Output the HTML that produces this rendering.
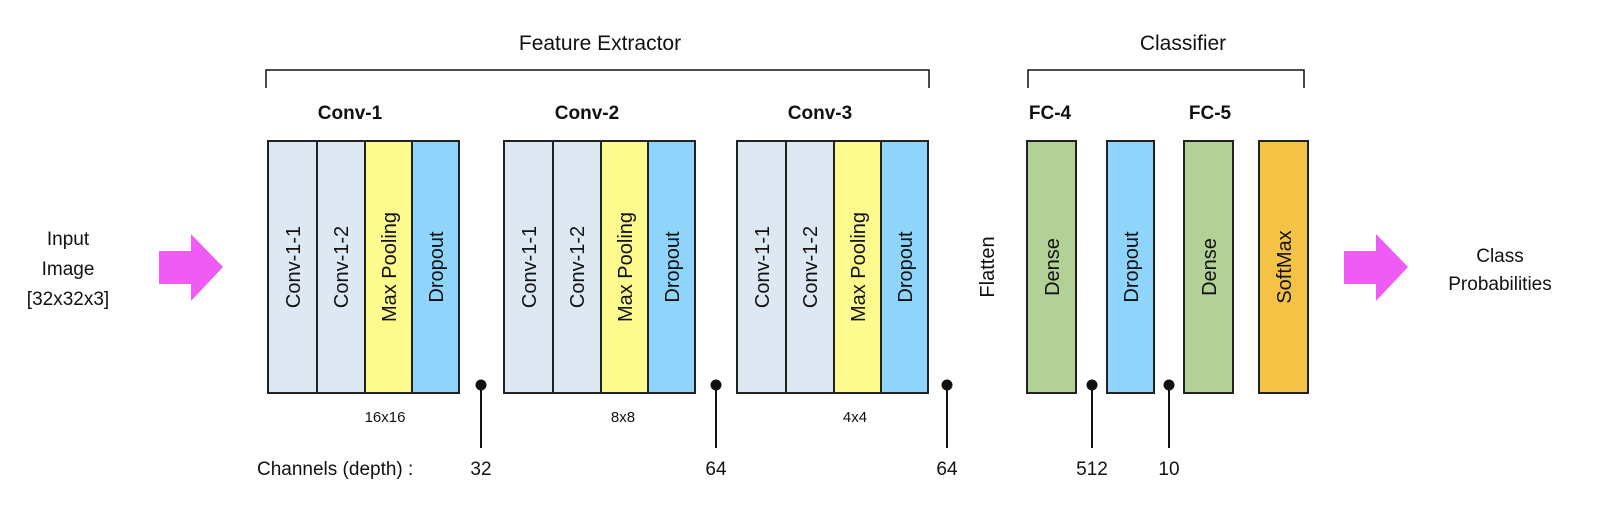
<!DOCTYPE html>
<html><head><meta charset="utf-8"><style>
html,body{margin:0;padding:0;background:#fff;}
svg{display:block;}
text{font-family:"Liberation Sans",sans-serif;fill:#111;}
</style></head><body>
<svg width="1600" height="514" viewBox="0 0 1600 514" xmlns="http://www.w3.org/2000/svg">
<!-- brackets -->
<path d="M266 88 V70 H929 V88" fill="none" stroke="#111" stroke-width="1.5"/>
<path d="M1028 88 V70 H1304 V88" fill="none" stroke="#111" stroke-width="1.5"/>
<text x="600" y="50" font-size="21" text-anchor="middle">Feature Extractor</text>
<text x="1183" y="50" font-size="21" text-anchor="middle">Classifier</text>
<g font-size="19" font-weight="bold" text-anchor="middle">
<text x="350" y="119">Conv-1</text>
<text x="587" y="119">Conv-2</text>
<text x="820" y="119">Conv-3</text>
<text x="1050" y="119">FC-4</text>
<text x="1210" y="119">FC-5</text>
</g>
<!-- input -->
<g font-size="19" text-anchor="middle">
<text x="68" y="245">Input</text>
<text x="68" y="275">Image</text>
<text x="68" y="305">[32x32x3]</text>
<text x="1500" y="262">Class</text>
<text x="1500" y="290">Probabilities</text>
</g>
<polygon points="159,251 191,251 191,234 223,267 191,301 191,284 159,284" fill="#ee5cf5"/>
<polygon points="1344,251 1376,251 1376,234 1408,267 1376,301 1376,284 1344,284" fill="#ee5cf5"/>
<!-- conv blocks -->
<g stroke="#222" stroke-width="2">
<g id="b1">
<rect x="268" y="141" width="49" height="252" fill="#dee8f3"/>
<rect x="317" y="141" width="48" height="252" fill="#dee8f3"/>
<rect x="365" y="141" width="47" height="252" fill="#fdfa8e"/>
<rect x="412" y="141" width="47" height="252" fill="#8fd4fa"/>
</g>
<use href="#b1" x="236"/>
<use href="#b1" x="469"/>
<rect x="1027" y="141" width="49" height="252" fill="#b3d096"/>
<rect x="1107" y="141" width="47" height="252" fill="#8fd4fa"/>
<rect x="1184" y="141" width="49" height="252" fill="#b3d096"/>
<rect x="1259" y="141" width="49" height="252" fill="#f4c244"/>
</g>
<g font-size="20">
<g id="t1">
<text transform="translate(300 267) rotate(-90)" text-anchor="middle">Conv-1-1</text>
<text transform="translate(348 267) rotate(-90)" text-anchor="middle">Conv-1-2</text>
<text transform="translate(396 267) rotate(-90)" text-anchor="middle">Max Pooling</text>
<text transform="translate(443 267) rotate(-90)" text-anchor="middle">Dropout</text>
</g>
<use href="#t1" x="236"/>
<use href="#t1" x="469"/>
<text transform="translate(994 267) rotate(-90)" text-anchor="middle">Flatten</text>
<text transform="translate(1059 267) rotate(-90)" text-anchor="middle">Dense</text>
<text transform="translate(1138 267) rotate(-90)" text-anchor="middle">Dropout</text>
<text transform="translate(1216 267) rotate(-90)" text-anchor="middle">Dense</text>
<text transform="translate(1291 267) rotate(-90)" text-anchor="middle">SoftMax</text>
</g>
<g font-size="15" text-anchor="middle">
<text x="385" y="422">16x16</text>
<text x="623" y="422">8x8</text>
<text x="855" y="422">4x4</text>
</g>
<!-- dots -->
<g stroke="#111" stroke-width="2" fill="#111">
<line x1="481" y1="385" x2="481" y2="448"/><circle cx="481" cy="385" r="4.5"/>
<line x1="716" y1="385" x2="716" y2="448"/><circle cx="716" cy="385" r="4.5"/>
<line x1="947" y1="385" x2="947" y2="448"/><circle cx="947" cy="385" r="4.5"/>
<line x1="1092" y1="385" x2="1092" y2="448"/><circle cx="1092" cy="385" r="4.5"/>
<line x1="1169" y1="385" x2="1169" y2="448"/><circle cx="1169" cy="385" r="4.5"/>
</g>
<g font-size="19">
<text x="257" y="475">Channels (depth) :</text>
<text x="481" y="475" text-anchor="middle">32</text>
<text x="716" y="475" text-anchor="middle">64</text>
<text x="947" y="475" text-anchor="middle">64</text>
<text x="1092" y="475" text-anchor="middle">512</text>
<text x="1169" y="475" text-anchor="middle">10</text>
</g>
</svg>
</body></html>
